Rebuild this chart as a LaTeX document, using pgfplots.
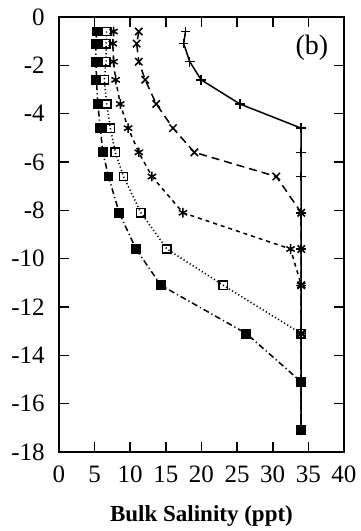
\documentclass[border=0pt]{standalone}
\usepackage{fontspec}
\setmainfont{Liberation Serif}
\usepackage{pgfplots}
\pgfplotsset{compat=1.18}
\begin{document}
\begin{tikzpicture}
\begin{axis}[
  name=ax,
  scale only axis,
  width=142.5pt, height=217.5pt,
  xmin=0, xmax=40, ymin=-18, ymax=0,
  xtick={0,5,...,40}, ytick={-18,-16,...,0},
  tick align=inside, tick pos=both,
  major tick length=5pt,
  axis line style={line width=1pt},
  tick style={line width=0.8pt, black},
  /pgf/number format/assume math mode=true,
  ticklabel style={font=\fontsize{12.5}{14}\selectfont, inner sep=0pt},
  xticklabel style={anchor=center, yshift=-11pt},
  yticklabel style={anchor=east, xshift=-7pt},
  xlabel={\bfseries Bulk Salinity (ppt)},
  xlabel style={at={(axis description cs:0.5,0)}, anchor=center, yshift=-32pt, font=\fontsize{11.5}{13}\selectfont},
  every axis plot/.append style={line width=0.75pt, black},
  clip=false,
]
\addplot[solid, mark=+, mark size=2.4pt, mark options={solid}] coordinates {
(17.75,-0.6)(17.5,-1.1)(18.35,-1.85)(19.95,-2.6)(25.4,-3.6)(34,-4.6)(34,-5.6)(34,-6.6)(34,-8.1)(34,-9.6)(34,-11.1)(34,-13.1)(34,-15.1)(34,-17.1)};
\addplot[dash pattern=on 4pt off 2.5pt, mark=x, mark size=2.6pt, mark options={solid}] coordinates {
(11.2,-0.6)(10.9,-1.1)(11.2,-1.85)(12.1,-2.6)(13.65,-3.6)(16.0,-4.6)(19.0,-5.6)(30.5,-6.6)(34,-8.1)(34,-9.6)(34,-11.1)(34,-13.1)(34,-15.1)(34,-17.1)};
\addplot[dash pattern=on 2pt off 2pt, mark=asterisk, mark size=2.4pt, mark options={solid}] coordinates {
(7.65,-0.6)(7.55,-1.1)(7.65,-1.85)(7.95,-2.6)(8.6,-3.6)(9.7,-4.6)(11.2,-5.6)(13.05,-6.6)(17.4,-8.1)(32.5,-9.6)(34,-11.1)(34,-13.1)(34,-15.1)(34,-17.1)};
\addplot[dash pattern=on 0.6pt off 1.2pt, mark=square, mark size=2.1pt, mark options={solid, fill=none}] coordinates {
(6.7,-0.6)(6.6,-1.1)(6.6,-1.85)(6.35,-2.6)(6.7,-3.6)(7.2,-4.6)(7.9,-5.6)(9.05,-6.6)(11.5,-8.1)(15.15,-9.6)(23.05,-11.1)(34,-13.1)(34,-15.1)(34,-17.1)};
\addplot[dash pattern=on 3pt off 1.5pt on 0.6pt off 1.5pt, mark=square*, mark size=2.1pt, mark options={solid, fill=black}] coordinates {
(5.3,-0.6)(5.15,-1.1)(5.2,-1.85)(5.25,-2.6)(5.45,-3.6)(5.8,-4.6)(6.15,-5.6)(6.95,-6.6)(8.45,-8.1)(10.8,-9.6)(14.3,-11.1)(26.3,-13.1)(34,-15.1)(34,-17.1)};
\node[font=\fontsize{14}{16}\selectfont, inner sep=0pt] at (axis cs:35.5,-1.28) {(b)};
\end{axis}
\pgfresetboundingbox
\path ([xshift=-29.5pt,yshift=-39.5pt]ax.south west) rectangle ([xshift=8pt,yshift=8.5pt]ax.north east);
\end{tikzpicture}
\end{document}
